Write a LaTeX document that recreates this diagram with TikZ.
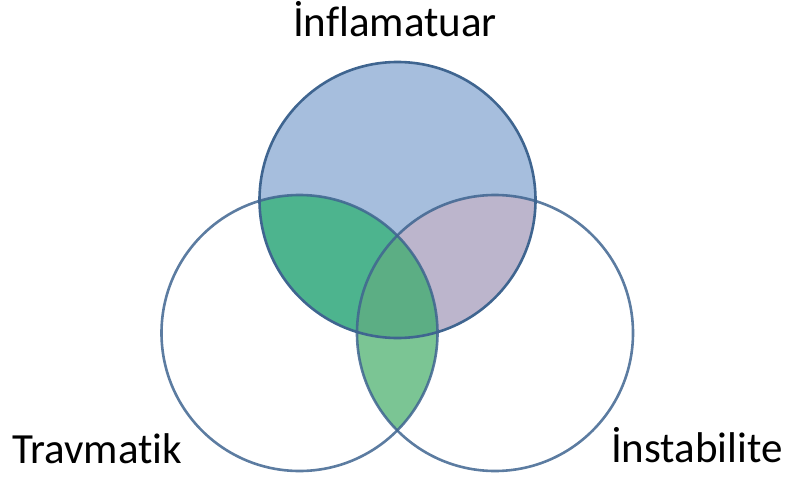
\documentclass[tikz,border=0pt]{standalone}
\usepackage{fontspec}
\setmainfont{Carlito}[Ligatures=NoCommon]
\usetikzlibrary{positioning}
\definecolor{inflblue}{HTML}{A6BEDD}
\definecolor{pairgreen}{HTML}{4DB48E}
\definecolor{triplegreen}{HTML}{5CAE84}
\definecolor{lowgreen}{HTML}{7BC594}
\definecolor{pairmauve}{HTML}{BCB5CC}
\definecolor{ringblue}{HTML}{3F6590}

\begin{document}
\begin{tikzpicture}[x=1pt,y=-1pt,
    setlabel/.style={font=\fontsize{43}{50}\selectfont,inner sep=0pt},
    ring/.style={ringblue,line width=2.6pt}]
  \useasboundingbox (0,0) rectangle (787,482);

  % Circle centres
  \coordinate (infl) at (397.5,200);
  \coordinate (trav) at (299.5,333);
  \coordinate (inst) at (495,333);
  \def\rad{138pt}

  % Top circle fill
  \fill[inflblue] (infl) circle[radius=\rad];

  % Top with left
  \begin{scope}
    \clip (infl) circle[radius=\rad];
    \fill[pairgreen] (trav) circle[radius=\rad];
  \end{scope}

  % Top with right
  \begin{scope}
    \clip (infl) circle[radius=\rad];
    \fill[pairmauve] (inst) circle[radius=\rad];
  \end{scope}

  % Left with right
  \begin{scope}
    \clip (trav) circle[radius=\rad];
    \fill[lowgreen] (inst) circle[radius=\rad];
  \end{scope}

  % All three
  \begin{scope}
    \clip (infl) circle[radius=\rad];
    \clip (trav) circle[radius=\rad];
    \fill[triplegreen] (inst) circle[radius=\rad];
  \end{scope}

  % Outlines
  \draw[ring] (infl) circle[radius=\rad];
  \draw[ring,opacity=0.85] (trav) circle[radius=\rad];
  \draw[ring,opacity=0.85] (inst) circle[radius=\rad];

  % Labels
  \node[setlabel,anchor=base] (inflname) at (395,36) {İnflamatuar};
  \node[setlabel,anchor=base west] (travname) at (12,463) {Travmatik};
  \node[setlabel,anchor=base east] (instname) at (783,462) {İnstabilite};
\end{tikzpicture}
\end{document}
